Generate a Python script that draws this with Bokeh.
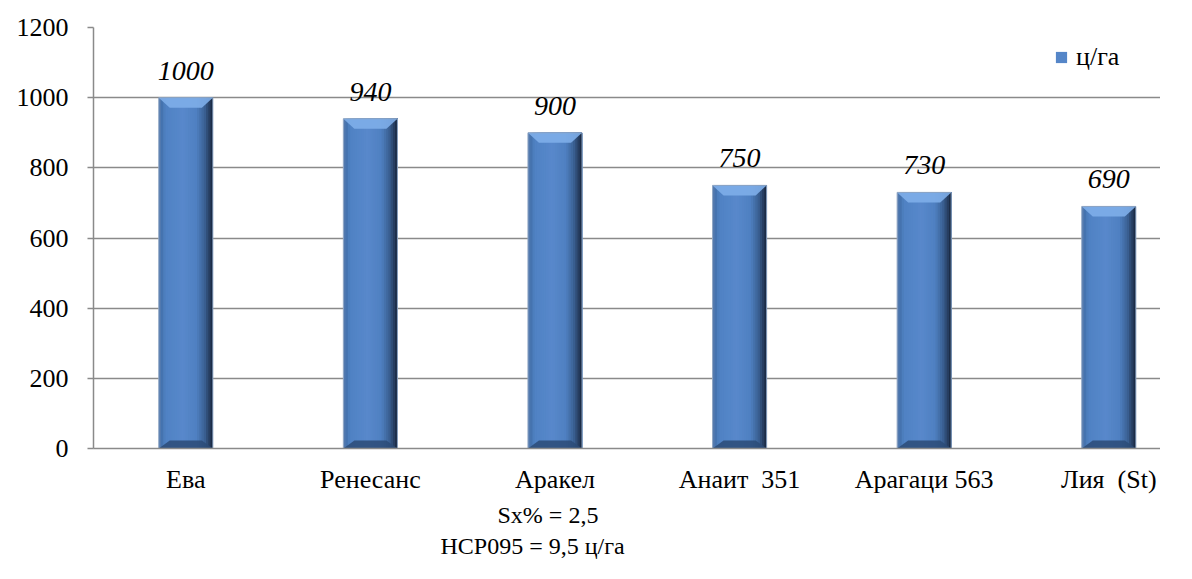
import numpy as np
from bokeh.plotting import figure
from bokeh.models import (Range1d, FixedTicker, Legend, LegendItem, ColumnDataSource, Title)
from bokeh.core.properties import value
from bokeh.embed import file_html
from bokeh.resources import INLINE

categories = ["Ева", "Ренесанс", "Аракел", "Анаит\u00a0 351", "Арагаци 563", "Лия\u00a0 (St)"]
yields = [1000, 940, 900, 750, 730, 690]
y_ticks = [0, 200, 400, 600, 800, 1000, 1200]
series_name = "ц/га"
notes = ["Sx% = 2,5", "НСР095 = 9,5 ц/га"]

FONT = "Liberation Serif"
W, H = 1160, 560
BL, BT, BR = 93, 27, 0
BB = H - 448
frame_w = W - BL - BR
cat_px = 184.6
x_end = frame_w / cat_px
frame_h = H - BT - BB
y_per_px = 1200 / frame_h
x_per_px = 1 / cat_px

p = figure(width=W, height=H, output_backend="svg", toolbar_location=None,
           x_range=Range1d(0, x_end), y_range=Range1d(0, 1200),
           min_border_left=BL, min_border_top=BT, min_border_bottom=BB, min_border_right=BR)
p.outline_line_color = None
p.background_fill_color = "white"

# axes
p.xaxis.ticker = FixedTicker(ticks=[i + 0.5 for i in range(len(categories))])
p.xaxis.major_label_overrides = {i + 0.5: c for i, c in enumerate(categories)}
p.xaxis.major_tick_line_color = None
p.xaxis.minor_tick_line_color = None
p.xaxis.axis_line_color = "#8a8a8a"
p.xaxis.axis_line_width = 1.5
p.xaxis.major_label_text_font = FONT
p.xaxis.major_label_text_font_size = "26px"
p.xaxis.major_label_text_color = "black"
p.xaxis.major_label_standoff = 10

p.yaxis.ticker = FixedTicker(ticks=y_ticks)
p.yaxis.minor_tick_line_color = None
p.yaxis.major_tick_in = 0
p.yaxis.major_tick_out = 6
p.yaxis.major_tick_line_color = "#8a8a8a"
p.yaxis.major_tick_line_width = 1.5
p.yaxis.axis_line_color = "#8a8a8a"
p.yaxis.axis_line_width = 1.5
p.yaxis.major_label_text_font = FONT
p.yaxis.major_label_text_font_size = "26px"
p.yaxis.major_label_text_color = "black"
p.yaxis.major_label_standoff = 19

p.xgrid.grid_line_color = None
p.ygrid.grid_line_color = "#8a8a8a"
p.ygrid.grid_line_width = 1.5

# bars with bevel / gradient (layered strips, each running to the bar's right edge)
bar_w = 0.293
profile_t = [0.0, 0.03, 0.12, 0.45, 0.7, 0.85, 0.95, 1.0]
profile_c = ["#7d9cc6", "#3f6aa3", "#4f82c3", "#5888cb", "#4f80c1", "#3a6092", "#24395a", "#14223a"]

def hx(c):
    return np.array([int(c[i:i + 2], 16) for i in (1, 3, 5)], float)

pc = np.array([hx(c) for c in profile_c])

def col_at(t):
    r = [np.interp(t, profile_t, pc[:, k]) for k in range(3)]
    return "#%02x%02x%02x" % tuple(int(round(v)) for v in r)

N = 24
L, R, T, B, C = [], [], [], [], []
for k in range(N):
    for i, v in enumerate(yields):
        c = i + 0.5
        x0 = c - bar_w / 2
        L.append(x0 + bar_w * k / N)
        R.append(x0 + bar_w)
        B.append(0)
        T.append(v)
        C.append(col_at((k + 0.5) / N))
bars = p.quad(left=L, right=R, bottom=B, top=T, fill_color=C, line_color=None)

# top and bottom bevels
dx = 11 * x_per_px
dy_top = 10 * y_per_px
dy_bot = 8 * y_per_px
txs, tys, bxs, bys = [], [], [], []
for i, v in enumerate(yields):
    c = i + 0.5
    l, r = c - bar_w / 2, c + bar_w / 2
    txs.append([l, r, r - dx, l + dx])
    tys.append([v, v, v - dy_top, v - dy_top])
    bxs.append([l, r, r - dx, l + dx])
    bys.append([0, 0, dy_bot, dy_bot])
p.patches(txs, tys, fill_color="#7eaee9", fill_alpha=0.9, line_color=None)
p.patches(bxs, bys, fill_color="#2c4b77", fill_alpha=0.85, line_color=None)
p.quad(left=[i + 0.5 - bar_w / 2 for i in range(len(yields))],
       right=[i + 0.5 + bar_w / 2 for i in range(len(yields))],
       bottom=[0] * len(yields), top=yields,
       fill_color=None, line_color="#8fa6c4", line_width=1)

# data labels
src = ColumnDataSource(dict(x=[i + 0.5 for i in range(len(yields))], y=yields,
                            t=[str(v) for v in yields]))
p.text(x="x", y="y", text="t", source=src, y_offset=-18, text_align="center",
       text_baseline="bottom", text_font=value(FONT), text_font_style="italic",
       text_font_size="28px", text_color="black")

# legend
legend = Legend(items=[LegendItem(label=series_name, renderers=[bars], index=6 * 12)],
                location=(961, 376), orientation="vertical",
                label_text_font=FONT, label_text_font_size="26px", label_text_color="black",
                glyph_width=14, glyph_height=14, label_standoff=8,
                border_line_color=None, background_fill_alpha=0, padding=0, margin=0,
                label_height=30)
p.add_layout(legend, "center")

# notes below
for j, n in enumerate(notes):
    p.add_layout(Title(text=n, align="left", offset=[404, 347][j], text_font=FONT,
                       text_font_size="24px", text_font_style="normal", text_color="black",
                       standoff=[6, 0][j]), "below")

open("out.html", "w").write(file_html(p, INLINE))
